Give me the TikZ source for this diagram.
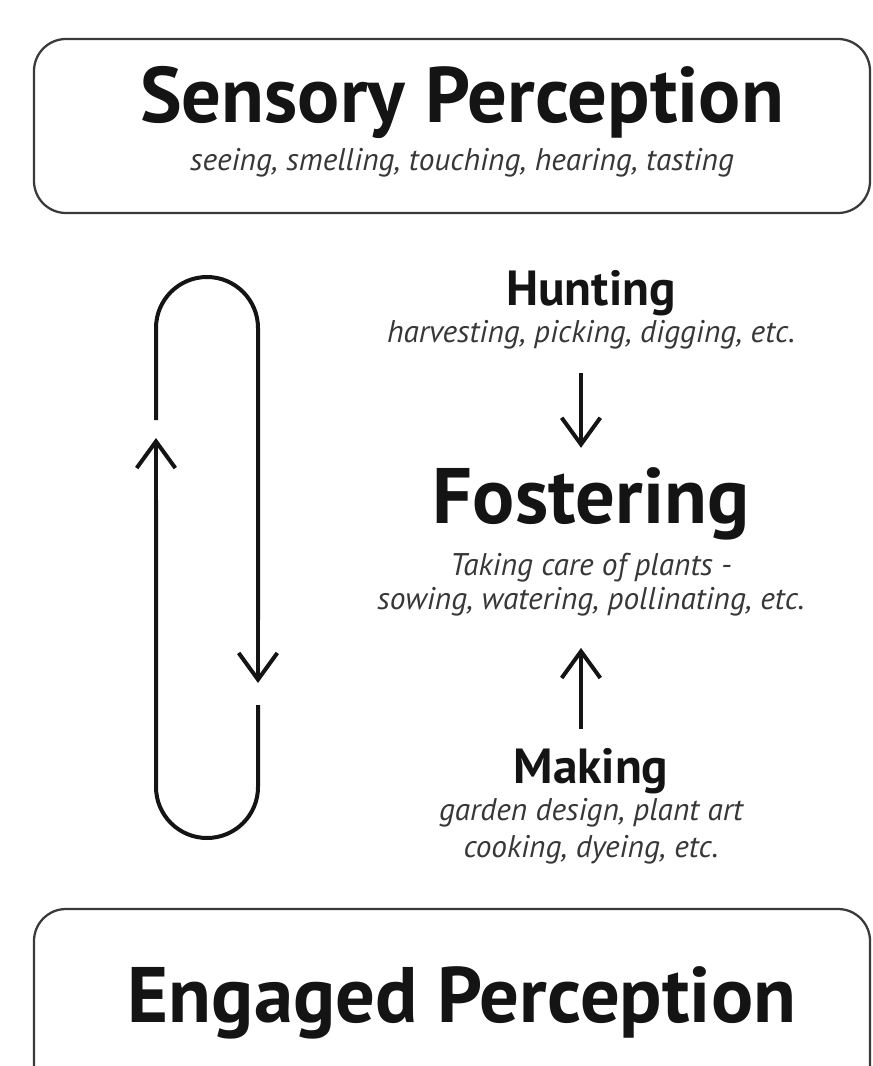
\documentclass[tikz,border=0pt]{standalone}
\usepackage{fontspec}
\setmainfont{PT Sans}
\usetikzlibrary{arrows.meta,calc}
\definecolor{inkdark}{HTML}{141414}
\definecolor{framegray}{HTML}{3A3A3A}
\tikzset{
  panel/.style={draw=framegray, line width=1.7pt, rounded corners=24pt},
  bighead/.style={anchor=base, inner sep=0pt, font=\fontsize{59}{62}\selectfont\bfseries, text=inkdark},
  midhead/.style={anchor=base, inner sep=0pt, font=\fontsize{37}{40}\selectfont\bfseries, text=inkdark},
  gloss/.style={anchor=base, inner sep=0pt, font=\fontsize{23.5}{26}\selectfont\itshape, text=inkdark!85},
  barb/.style={-{Straight Barb[length=20pt, width=29pt]}, line width=3pt, color=inkdark},
  loopline/.style={line width=3pt, color=inkdark},
}
\begin{document}
\begin{tikzpicture}[x=0.75pt,y=0.75pt]
  \useasboundingbox (0,0) rectangle (872,-1066);
  % the two perception panels
  \draw[panel] (34,-39) rectangle (870,-213);
  \draw[panel] (34,-909) rectangle (870,-1110);
  \node[bighead] (sens) at (462,-123) {Sensory Perception};
  \node[gloss] (senssub) at (462,-171) {seeing, smelling, touching, hearing, tasting};
  \node[bighead] (eng) at (462,-1022) {Engaged Perception};
  % middle column
  \node[midhead] (hunt) at (591,-305) {Hunting};
  \node[gloss] (huntsub) at (591,-342) {harvesting, picking, digging, etc.};
  \node[bighead] (fost) at (591,-523) {Fostering};
  \node[gloss] (fostsub1) at (591,-575) {Taking care of plants -};
  \node[gloss] (fostsub2) at (591,-609) {sowing, watering, pollinating, etc.};
  \node[midhead] (mak) at (591,-783) {Making};
  \node[gloss] (maksub1) at (591,-820) {garden design, plant art};
  \node[gloss] (maksub2) at (591,-857) {cooking, dyeing, etc.};
  \coordinate (colx) at (581,0);
  \draw[barb] ($(huntsub.south -| colx)+(0,-24)$) -- ($(fost.north -| colx)+(0,19)$);
  \draw[barb] ($(mak.north -| colx)+(0,19)$) -- ($(fostsub2.south -| colx)+(0,-32)$);
  % the loop on the left
  \draw[loopline] (156,-420) -- (156,-328) arc[start angle=180, end angle=0, radius=51]
    -- (258,-620);
  \draw[barb] (258,-620) -- (258,-683);
  \draw[loopline] (258,-705) -- (258,-787) arc[start angle=0, end angle=-180, radius=51]
    -- (156,-500);
  \draw[barb] (156,-500) -- (156,-438);
\end{tikzpicture}
\end{document}
